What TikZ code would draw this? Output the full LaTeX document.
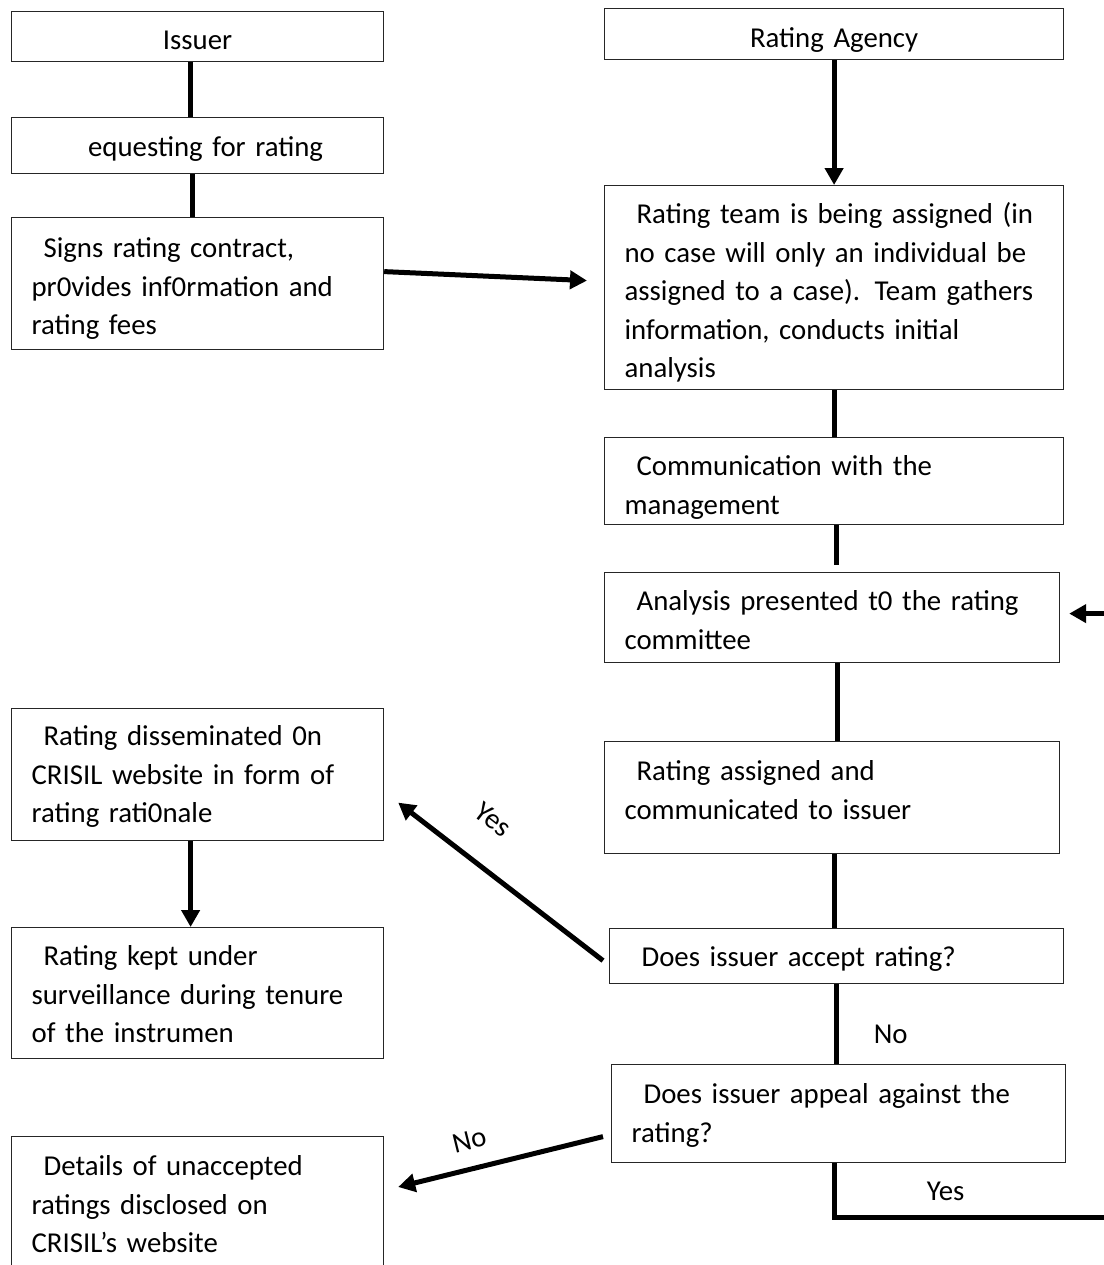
\documentclass[tikz,border=0pt]{standalone}
\usepackage{fontspec}
\setmainfont{Carlito}
\usetikzlibrary{arrows.meta}
\newcommand{\firstind}{\hspace*{6pt}}

\tikzset{
  box/.style={draw=black!85, line width=0.6pt, anchor=north west,
    inner xsep=10pt, inner ysep=0pt, align=left,
    font=\fontsize{14.4}{19.25}\selectfont},
  lbox/.style={box, text width=166pt},
  rbox/.style={box, text width=209.5pt},
  link/.style={line width=2.5pt},
  arr/.style={link, -{Triangle[length=8.5pt,width=9pt]}},
  lbl/.style={font=\fontsize{14.4}{19.25}\selectfont}
}

\begin{document}
\begin{tikzpicture}[x=0.5pt,y=-0.5pt]
        \useasboundingbox (0,0) rectangle (1104,1265);

        \begin{scope}
          \node[lbox, align=center, text height=19pt, text depth=6pt] (issuer) at (11,11) {Issuer};
          \node[lbox, align=center, text height=19.5pt, text depth=8.5pt] (request) at (11,117) {\hspace*{8pt}equesting for rating};
          \node[lbox, text height=20pt, text depth=46pt] (signs) at (11,217)
            {\firstind Signs rating contract,\\ pr0vides inf0rmation and\\ rating fees};
          \node[lbox, text height=18.5pt, text depth=47.5pt] (dissem) at (11,708)
            {\firstind Rating disseminated 0n\\ CRISIL website in form of\\ rating rati0nale};
          \node[lbox, text height=19pt, text depth=46.5pt] (kept) at (11,927)
            {\firstind Rating kept under\\ surveillance during tenure\\ of the instrumen};
          \node[lbox, text height=19.5pt, text depth=60pt] (details) at (11,1136)
            {\firstind Details of unaccepted\\ ratings disclosed on\\ CRISIL’s website};

          \node[rbox, align=center, text height=19.5pt, text depth=6pt] (agency) at (604,8) {Rating Agency};
          \node[rbox, text height=19pt, text depth=83pt] (team) at (604,185)
            {\firstind Rating team is being assigned (in\\ no case will only an individual be\\ assigned to a case). Team gathers\\ information, conducts initial\\ analysis};
          \node[rbox, text height=19pt, text depth=24.5pt] (comm) at (604,437)
            {\firstind Communication with the\\ management};
          \node[rbox, text width=207.5pt, text height=19pt, text depth=26pt] (analysis) at (604,572)
            {\firstind Analysis presented t0 the rating\\ committee};
          \node[rbox, text width=207.5pt, text height=19.5pt, text depth=36.5pt] (assigned) at (604,741)
            {\firstind Rating assigned and\\ communicated to issuer};
          \node[rbox, text width=207pt, text height=19pt, text depth=8.5pt] (accept) at (609,928)
            {\firstind Does issuer accept rating?};
          \node[rbox, text width=207pt, text height=19.5pt, text depth=29.5pt] (appeal) at (611,1064)
            {\firstind Does issuer appeal against the\\ rating?};
        \end{scope}

        \coordinate (back) at (1112,1217);

        \begin{scope}
          \draw[link] ([xshift=-3.5pt]issuer.south) -- ([xshift=-3.5pt]request.north);
          \draw[link] ([xshift=-2.5pt]request.south) -- ([xshift=-2.5pt]signs.north);
          \draw[arr] ([yshift=6pt]signs.east) -- ([xshift=-8.5pt,yshift=3.5pt]team.west);
          \draw[arr] ([xshift=-3.5pt]dissem.south) -- ([xshift=-3.5pt]kept.north);

          \draw[arr] (agency.south) -- (team.north);
          \draw[link] (team.south) -- (comm.north);
          \draw[link] ([xshift=1.25pt]comm.south) -- ([xshift=2.25pt,yshift=3.5pt]analysis.north);
          \draw[link] ([xshift=2.75pt]analysis.south) -- ([xshift=2.75pt]assigned.north);
          \draw[link] ([xshift=1.25pt]assigned.south) -- ([xshift=-1pt]accept.north);
          \draw[link] (accept.south) -- node[lbl, pos=0.63, right=14pt] {No} ([xshift=-1pt]appeal.north);

          \draw[arr] ([xshift=-3pt,yshift=-2.25pt]accept.west) -- node[lbl, sloped, pos=0.67, above=13pt] {Yes} ([xshift=7pt,yshift=-14pt]dissem.east);
          \draw[arr] ([xshift=-4pt,yshift=-11.5pt]appeal.west) -- node[lbl, sloped, pos=0.62, above=5pt] {No} ([xshift=7pt,yshift=-25.5pt]details.north east);
          \draw[arr] ([xshift=-2pt]appeal.south) |- node[lbl, pos=0.7, above=3.7pt] {Yes} (back)
            |- ([xshift=4.5pt,yshift=2pt]analysis.east);
        \end{scope}

      \end{tikzpicture}
\end{document}
